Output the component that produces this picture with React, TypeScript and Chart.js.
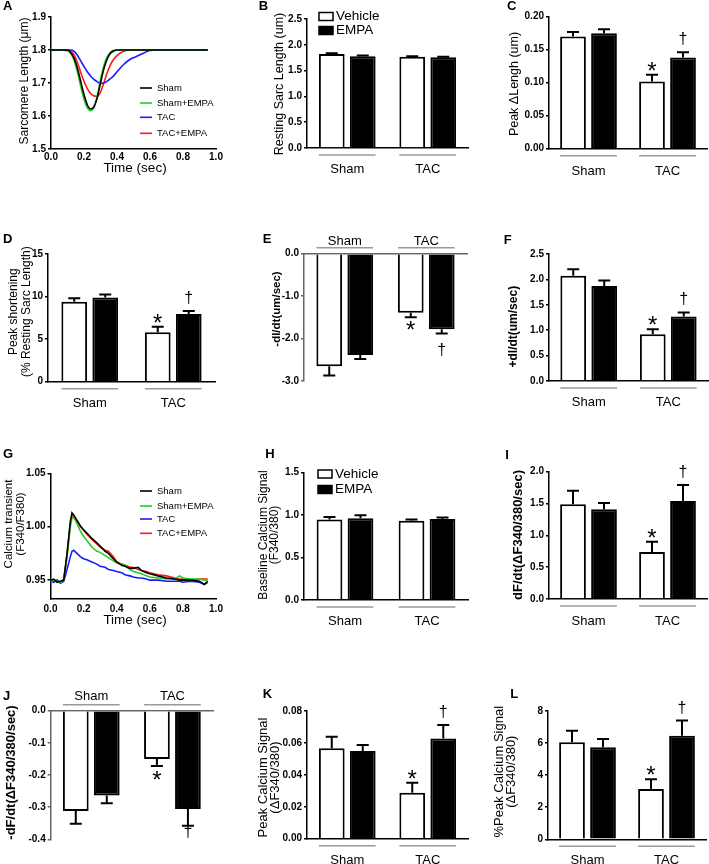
import React, { useEffect, useRef } from 'react';
import { Chart, registerables } from 'chart.js';

Chart.register(...registerables);

const FONT = "'Liberation Sans', Arial, Helvetica, sans-serif";
Chart.defaults.font.family = FONT;
Chart.defaults.color = '#000';

// ---------------- Data ----------------
const groups = ['Sham', 'TAC'];
const barSeries = ['Vehicle', 'EMPA'];
const traceNames = ['Sham', 'Sham+EMPA', 'TAC', 'TAC+EMPA'];
const traceColors = ['#000000', '#1fd11f', '#1a1aff', '#ff1a1a'];

// Panel A: sarcomere length traces
const timeA = [0, 0.05, 0.10, 0.12, 0.14, 0.16, 0.18, 0.20, 0.22, 0.24, 0.26, 0.28, 0.30, 0.32, 0.34, 0.36, 0.38, 0.40, 0.44, 0.48, 0.52, 0.56, 0.60, 0.70, 0.80, 0.90, 0.95];
const lenSham = [1.8, 1.8, 1.799, 1.792, 1.775, 1.745, 1.705, 1.665, 1.634, 1.621, 1.628, 1.655, 1.700, 1.742, 1.772, 1.790, 1.797, 1.800, 1.8, 1.8, 1.8, 1.8, 1.8, 1.8, 1.8, 1.8, 1.8];
const lenShamEmpa = [1.8, 1.8, 1.798, 1.789, 1.768, 1.733, 1.690, 1.650, 1.625, 1.616, 1.626, 1.660, 1.710, 1.752, 1.779, 1.793, 1.799, 1.800, 1.8, 1.8, 1.8, 1.8, 1.8, 1.8, 1.8, 1.8, 1.8];
const lenTac = [1.8, 1.8, 1.8, 1.8, 1.796, 1.784, 1.767, 1.750, 1.734, 1.721, 1.711, 1.704, 1.699, 1.700, 1.705, 1.713, 1.722, 1.734, 1.756, 1.772, 1.781, 1.790, 1.799, 1.8, 1.8, 1.8, 1.8];
const lenTacEmpa = [1.8, 1.8, 1.8, 1.797, 1.785, 1.762, 1.732, 1.705, 1.683, 1.668, 1.661, 1.660, 1.672, 1.700, 1.730, 1.755, 1.772, 1.783, 1.796, 1.8, 1.8, 1.8, 1.8, 1.8, 1.8, 1.8, 1.8];

// Panel G: calcium transient traces
const timeG = [0, 0.02, 0.04, 0.06, 0.08, 0.10, 0.12, 0.13, 0.14, 0.16, 0.18, 0.20, 0.22, 0.25, 0.28, 0.30, 0.33, 0.35, 0.38, 0.40, 0.43, 0.45, 0.48, 0.50, 0.53, 0.55, 0.58, 0.60, 0.65, 0.70, 0.75, 0.78, 0.80, 0.85, 0.90, 0.93, 0.95];
const caSham = [0.950, 0.951, 0.948, 0.949, 0.950, 0.975, 1.005, 1.013, 1.011, 1.006, 1.001, 0.997, 0.994, 0.989, 0.985, 0.982, 0.977, 0.975, 0.970, 0.967, 0.964, 0.963, 0.961, 0.961, 0.962, 0.959, 0.957, 0.956, 0.954, 0.952, 0.951, 0.950, 0.950, 0.950, 0.949, 0.946, 0.949];
const caShamEmpa = [0.949, 0.950, 0.949, 0.948, 0.950, 0.972, 1.000, 1.008, 1.009, 1.003, 0.996, 0.991, 0.987, 0.981, 0.977, 0.976, 0.973, 0.971, 0.968, 0.966, 0.965, 0.964, 0.960, 0.958, 0.957, 0.956, 0.954, 0.953, 0.952, 0.951, 0.951, 0.954, 0.952, 0.951, 0.951, 0.950, 0.950];
const caTac = [0.949, 0.948, 0.950, 0.947, 0.949, 0.960, 0.972, 0.977, 0.978, 0.975, 0.972, 0.970, 0.969, 0.967, 0.965, 0.963, 0.962, 0.960, 0.959, 0.958, 0.957, 0.955, 0.954, 0.953, 0.952, 0.952, 0.951, 0.950, 0.950, 0.949, 0.949, 0.949, 0.948, 0.949, 0.948, 0.946, 0.948];
const caTacEmpa = [0.951, 0.949, 0.950, 0.948, 0.951, 0.974, 1.003, 1.010, 1.009, 1.005, 1.000, 0.997, 0.993, 0.988, 0.984, 0.981, 0.978, 0.977, 0.972, 0.967, 0.965, 0.964, 0.962, 0.962, 0.960, 0.959, 0.958, 0.957, 0.955, 0.954, 0.952, 0.951, 0.951, 0.950, 0.951, 0.951, 0.951];

// Bar panels: means and SEM for [Sham, TAC]
const restLenVehicle = [1.82, 1.77];
const restLenVehicleSem = [0.015, 0.008];
const restLenEmpa = [1.78, 1.76];
const restLenEmpaSem = [0.012, 0.006];

const peakDLenVehicle = [0.170, 0.102];
const peakDLenVehicleSem = [0.007, 0.010];
const peakDLenEmpa = [0.175, 0.138];
const peakDLenEmpaSem = [0.006, 0.008];

const peakShortVehicle = [9.4, 5.8];
const peakShortVehicleSem = [0.4, 0.65];
const peakShortEmpa = [9.9, 7.95];
const peakShortEmpaSem = [0.35, 0.35];

const negDldtVehicle = [-2.65, -1.39];
const negDldtVehicleSem = [0.22, 0.11];
const negDldtEmpa = [-2.39, -1.78];
const negDldtEmpaSem = [0.09, 0.10];

const posDldtVehicle = [2.07, 0.92];
const posDldtVehicleSem = [0.13, 0.10];
const posDldtEmpa = [1.87, 1.27];
const posDldtEmpaSem = [0.11, 0.08];

const baseCaVehicle = [0.945, 0.932];
const baseCaVehicleSem = [0.03, 0.013];
const baseCaEmpa = [0.96, 0.952];
const baseCaEmpaSem = [0.035, 0.018];

const caUpVehicle = [1.49, 0.74];
const caUpVehicleSem = [0.21, 0.16];
const caUpEmpa = [1.41, 1.54];
const caUpEmpaSem = [0.10, 0.25];

const caDownVehicle = [-0.312, -0.150];
const caDownVehicleSem = [0.040, 0.022];
const caDownEmpa = [-0.264, -0.306];
const caDownEmpaSem = [0.024, 0.052];

const peakCaVehicle = [0.0566, 0.0288];
const peakCaVehicleSem = [0.0073, 0.0062];
const peakCaEmpa = [0.055, 0.0627];
const peakCaEmpaSem = [0.0037, 0.0086];

const pctPeakCaVehicle = [6.05, 3.14];
const pctPeakCaVehicleSem = [0.72, 0.6];
const pctPeakCaEmpa = [5.74, 6.46];
const pctPeakCaEmpaSem = [0.51, 0.94];

// Tick values
const ticksTime = [0, 0.2, 0.4, 0.6, 0.8, 1.0];
const ticksLenA = [1.5, 1.6, 1.7, 1.8, 1.9];
const ticksCaG = [0.95, 1.0, 1.05];
const caAxisMinG = 0.933;
const ticksB = [0, 0.5, 1, 1.5, 2, 2.5];
const ticksC = [0, 0.05, 0.1, 0.15, 0.2];
const ticksD = [0, 5, 10, 15];
const ticksE = [-3, -2, -1, 0];
const ticksF = [0, 0.5, 1, 1.5, 2, 2.5];
const ticksH = [0, 0.5, 1, 1.5];
const ticksI = [0, 0.5, 1, 1.5, 2];
const ticksJ = [-0.4, -0.3, -0.2, -0.1, 0];
const ticksK = [0, 0.02, 0.04, 0.06, 0.08];
const ticksL = [0, 2, 4, 6, 8];

// ---------------- Layout ----------------
const CX = [0, 236, 472];
const CW = [236, 236, 237];
const RY = [0, 205, 420, 640];
const RH = [205, 215, 220, 224];

const panels: any[] = [
  { kind: 'line', letter: 'A', letterAt: [3, 10], cell: [0, 0], area: [51, 17, 216, 149], time: timeA,
    series: [lenSham, lenShamEmpa, lenTac, lenTacEmpa], smooth: true, yTicks: ticksLenA, yMin: 1.5, yMax: 1.9, yDec: 1,
    title: ['Sarcomere Length (\u03bcm)'], tSize: 12, tBold: false, tCX: 25, tCY: 81, tLine: 14,
    xTitleY: 168, xTickPad: 2, legendRows: [88, 103, 117.3, 133.3] },
  { kind: 'bar', letter: 'B', letterAt: [258.7, 10], cell: [1, 0], area: [307, 19, 468, 148],
    veh: restLenVehicle, vehErr: restLenVehicleSem, empa: restLenEmpa, empaErr: restLenEmpaSem, ticks: ticksB, dec: 1,
    title: ['Resting Sarc Length (um)'], tSize: 12.5, tBold: false, tCX: 279.3, tCY: 84, tLine: 14,
    labelPad: 14, legendAt: [319, 16.5, 30.5], marks: false },
  { kind: 'bar', letter: 'C', letterAt: [507, 10], cell: [2, 0], area: [549, 16.7, 707, 148.7],
    veh: peakDLenVehicle, vehErr: peakDLenVehicleSem, empa: peakDLenEmpa, empaErr: peakDLenEmpaSem, ticks: ticksC, dec: 2,
    title: ['Peak \u0394Lengh (um)'], tSize: 12.5, tBold: false, tCX: 515, tCY: 84, tLine: 14,
    labelPad: 15, marks: true },
  { kind: 'bar', letter: 'D', letterAt: [3, 243.3], cell: [0, 1], area: [48, 254, 215, 381.7],
    veh: peakShortVehicle, vehErr: peakShortVehicleSem, empa: peakShortEmpa, empaErr: peakShortEmpaSem, ticks: ticksD, dec: 0,
    title: ['Peak shortening', '(% Resting Sarc Length)'], tSize: 12, tBold: false, tCX: 20, tCY: 311.7, tLine: 13.5,
    labelPad: 14, marks: true },
  { kind: 'bar', letter: 'E', letterAt: [262.7, 243.3], cell: [1, 1], area: [304, 253.7, 467, 381],
    veh: negDldtVehicle, vehErr: negDldtVehicleSem, empa: negDldtEmpa, empaErr: negDldtEmpaSem, ticks: ticksE, dec: 1,
    title: ['-dl/dt(um/sec)'], tSize: 11.5, tBold: true, tCX: 276.5, tCY: 309, tLine: 14,
    labelPad: 4, xTop: true, axisColor: '#666', marks: true, markDy: [20.7, 21.7] },
  { kind: 'bar', letter: 'F', letterAt: [503.7, 244], cell: [2, 1], area: [549, 254, 708, 381],
    veh: posDldtVehicle, vehErr: posDldtVehicleSem, empa: posDldtEmpa, empaErr: posDldtEmpaSem, ticks: ticksF, dec: 1,
    title: ['+dl/dt(um/sec)'], tSize: 12, tBold: true, tCX: 514, tCY: 326.7, tLine: 14,
    labelPad: 14, marks: true },
  { kind: 'line', letter: 'G', letterAt: [3, 458.3], cell: [0, 2], area: [50.5, 473.3, 216, 598.3], time: timeG,
    series: [caSham, caShamEmpa, caTac, caTacEmpa], smooth: false, yTicks: ticksCaG, yMin: caAxisMinG, yMax: 1.05, yDec: 2,
    title: ['Calcium transient', '(F340/F380)'], tSize: 11.5, tBold: false, tCX: 14.75, tCY: 524, tLine: 12.5,
    xTitleY: 620, xTickPad: 4.5, legendRows: [491, 506, 519, 533.3] },
  { kind: 'bar', letter: 'H', letterAt: [265.3, 458.3], cell: [1, 2], area: [304, 472.3, 468, 600],
    veh: baseCaVehicle, vehErr: baseCaVehicleSem, empa: baseCaEmpa, empaErr: baseCaEmpaSem, ticks: ticksH, dec: 1,
    title: ['Baseline Calcium Signal', '(F340/380)'], tSize: 12, tBold: false, tCX: 269.25, tCY: 535, tLine: 11.5,
    labelPad: 14, legendAt: [318, 474, 489.5], marks: false },
  { kind: 'bar', letter: 'I', letterAt: [505.3, 459], cell: [2, 2], area: [549, 471.7, 707, 599],
    veh: caUpVehicle, vehErr: caUpVehicleSem, empa: caUpEmpa, empaErr: caUpEmpaSem, ticks: ticksI, dec: 1,
    title: ['dF/dt(\u0394F340/380/sec)'], tSize: 13, tBold: true, tCX: 518.7, tCY: 535, tLine: 14,
    labelPad: 15, marks: true },
  { kind: 'bar', letter: 'J', letterAt: [3, 700], cell: [0, 3], area: [50.7, 710.7, 213, 839.3],
    veh: caDownVehicle, vehErr: caDownVehicleSem, empa: caDownEmpa, empaErr: caDownEmpaSem, ticks: ticksJ, dec: 1,
    title: ['-dF/dt(\u0394F340/380/sec)'], tSize: 13, tBold: true, tCX: 11, tCY: 772.5, tLine: 14,
    labelPad: 6, xTop: true, axisColor: '#666', marks: true, markDy: [22.2, 11] },
  { kind: 'bar', letter: 'K', letterAt: [262.7, 697.7], cell: [1, 3], area: [307, 711, 468, 838.7],
    veh: peakCaVehicle, vehErr: peakCaVehicleSem, empa: peakCaEmpa, empaErr: peakCaEmpaSem, ticks: ticksK, dec: 2,
    title: ['Peak Calcium Signal', '(\u0394F340/380)'], tSize: 13, tBold: false, tCX: 269.2, tCY: 777.5, tLine: 11.7,
    labelPad: 13.5, marks: true },
  { kind: 'bar', letter: 'L', letterAt: [510.3, 697.7], cell: [2, 3], area: [548, 711, 706, 839.3],
    veh: pctPeakCaVehicle, vehErr: pctPeakCaVehicleSem, empa: pctPeakCaEmpa, empaErr: pctPeakCaEmpaSem, ticks: ticksL, dec: 0,
    title: ['%Peak Calcium Signal', '(\u0394F340/380)'], tSize: 13, tBold: false, tCX: 505.2, tCY: 771.7, tLine: 11.7,
    labelPad: 13, marks: true },
];

// ---------------- Drawing helpers ----------------
function drawVTitle(ctx: any, lines: string[], cx: number, cy: number, size: number, bold: boolean, lh: number) {
  ctx.save();
  ctx.translate(cx, cy);
  ctx.rotate(-Math.PI / 2);
  ctx.font = `${bold ? 'bold ' : ''}${size}px ${FONT}`;
  ctx.textAlign = 'center';
  ctx.textBaseline = 'middle';
  ctx.fillStyle = '#000';
  const n = lines.length;
  lines.forEach((t, i) => ctx.fillText(t, 0, (i - (n - 1) / 2) * lh));
  ctx.restore();
}

function drawCommon(ctx: any, p: any, ox: number, oy: number) {
  ctx.save();
  ctx.fillStyle = '#000';
  ctx.font = `bold 13px ${FONT}`;
  ctx.textAlign = 'left';
  ctx.textBaseline = 'alphabetic';
  ctx.fillText(p.letter, p.letterAt[0] - ox, p.letterAt[1] - oy);
  ctx.restore();
  drawVTitle(ctx, p.title, p.tCX - ox, p.tCY - oy, p.tSize, p.tBold, p.tLine);
}

function barDecor(p: any, ox: number, oy: number) {
  return {
    id: 'barDecor',
    afterDatasetsDraw(chart: any) {
      const ctx = chart.ctx;
      const ys = chart.scales.y;
      const vals = [p.veh, p.empa];
      const errs = [p.vehErr, p.empaErr];
      ctx.save();
      ctx.strokeStyle = '#000';
      ctx.lineWidth = 2;
      for (let d = 0; d < 2; d++) {
        const meta = chart.getDatasetMeta(d);
        meta.data.forEach((el: any, i: number) => {
          const v = vals[d][i];
          const e = errs[d][i];
          const y0 = ys.getPixelForValue(v);
          const y1 = ys.getPixelForValue(v >= 0 ? v + e : v - e);
          ctx.beginPath();
          ctx.moveTo(el.x, y0);
          ctx.lineTo(el.x, y1);
          ctx.moveTo(el.x - 6, y1);
          ctx.lineTo(el.x + 6, y1);
          ctx.stroke();
        });
      }
      ctx.restore();
    },
    afterDraw(chart: any) {
      const ctx = chart.ctx;
      const ys = chart.scales.y;
      const area = chart.chartArea;
      const m0 = chart.getDatasetMeta(0).data;
      const m1 = chart.getDatasetMeta(1).data;
      ctx.save();
      // group lines
      const gy = p.xTop ? area.top - 6 : area.bottom + 7;
      ctx.strokeStyle = '#9a9a9a';
      ctx.lineWidth = 1.5;
      for (let i = 0; i < groups.length; i++) {
        const l = m0[i].x - m0[i].width / 2;
        const r = m1[i].x + m1[i].width / 2;
        ctx.beginPath();
        ctx.moveTo(l, gy);
        ctx.lineTo(r, gy);
        ctx.stroke();
      }
      // significance marks on TAC
      if (p.marks) {
        const v0 = p.veh[1], e0 = p.vehErr[1];
        const v1 = p.empa[1], e1 = p.empaErr[1];
        const end0 = ys.getPixelForValue(v0 >= 0 ? v0 + e0 : v0 - e0);
        const end1 = ys.getPixelForValue(v1 >= 0 ? v1 + e1 : v1 - e1);
        const dy = p.markDy || [4, -8];
        ctx.fillStyle = '#000';
        ctx.textAlign = 'center';
        ctx.textBaseline = 'alphabetic';
        ctx.font = `24px ${FONT}`;
        ctx.fillText('*', m0[1].x, end0 + dy[0]);
        ctx.font = `16px ${FONT}`;
        ctx.fillText('\u2020', m1[1].x, end1 + dy[1]);
      }
      // legend
      if (p.legendAt) {
        const [bx, y1, y2] = p.legendAt;
        const x = bx - ox;
        ctx.lineWidth = 1.5;
        ctx.strokeStyle = '#000';
        ctx.fillStyle = '#fff';
        ctx.fillRect(x, y1 - oy - 4, 14, 8);
        ctx.strokeRect(x, y1 - oy - 4, 14, 8);
        ctx.fillStyle = '#000';
        ctx.fillRect(x - 0.75, y2 - oy - 4.75, 15.5, 9.5);
        ctx.font = `13.5px ${FONT}`;
        ctx.textAlign = 'left';
        ctx.textBaseline = 'middle';
        ctx.fillText(barSeries[0], x + 17, y1 - oy);
        ctx.fillText(barSeries[1], x + 17, y2 - oy);
      }
      ctx.restore();
      drawCommon(ctx, p, ox, oy);
    },
  };
}

function lineDecor(p: any, ox: number, oy: number) {
  return {
    id: 'lineDecor',
    afterDraw(chart: any) {
      const ctx = chart.ctx;
      ctx.save();
      ctx.lineWidth = 1.6;
      ctx.font = `9.5px ${FONT}`;
      ctx.textAlign = 'left';
      ctx.textBaseline = 'middle';
      p.legendRows.forEach((ry: number, k: number) => {
        const y = ry - oy;
        ctx.strokeStyle = traceColors[k];
        ctx.beginPath();
        ctx.moveTo(140 - ox, y);
        ctx.lineTo(152 - ox, y);
        ctx.stroke();
        ctx.fillStyle = '#000';
        ctx.fillText(traceNames[k], 157 - ox, y);
      });
      ctx.font = `13.5px ${FONT}`;
      ctx.textAlign = 'center';
      ctx.fillStyle = '#000';
      ctx.fillText('Time (sec)', 135 - ox, p.xTitleY - oy);
      ctx.restore();
      drawCommon(ctx, p, ox, oy);
    },
  };
}

function barConfig(p: any) {
  const [c, r] = p.cell;
  const ox = CX[c], oy = RY[r], w = CW[c], h = RH[r];
  const [L, T, R, B] = p.area;
  const cat = (R - L) / groups.length;
  const top = !!p.xTop;
  const axisColor = p.axisColor || '#000';
  const ticks = p.ticks;
  return {
    type: 'bar',
    data: {
      labels: groups,
      datasets: [
        { label: barSeries[0], data: p.veh, backgroundColor: '#ffffff', borderColor: '#000', borderWidth: 2,
          categoryPercentage: 62 / cat, barPercentage: 0.83 },
        { label: barSeries[1], data: p.empa, backgroundColor: '#000000', borderColor: '#000', borderWidth: 2,
          categoryPercentage: 62 / cat, barPercentage: 0.83 },
      ],
    },
    options: {
      responsive: false,
      animation: false,
      devicePixelRatio: 1,
      layout: { padding: { left: 0, right: ox + w - R, top: top ? 0 : T - oy, bottom: top ? oy + h - B : 0 } },
      plugins: { legend: { display: false }, tooltip: { enabled: false }, title: { display: false } },
      scales: {
        x: {
          position: top ? 'top' : 'bottom',
          grid: { display: false, drawTicks: false },
          border: { display: true, color: axisColor, width: 1.5 },
          ticks: { font: { size: 13, family: FONT }, color: '#000', padding: p.labelPad, maxRotation: 0, autoSkip: false },
          afterFit: (s: any) => { s.height = top ? T - oy : oy + h - B; },
        },
        y: {
          min: ticks[0],
          max: ticks[ticks.length - 1],
          afterBuildTicks: (s: any) => { s.ticks = ticks.map((v: number) => ({ value: v })); },
          afterFit: (s: any) => { s.width = L - ox; },
          grid: { display: true, drawOnChartArea: false, drawTicks: true, tickLength: 3, color: axisColor, lineWidth: 1.5 },
          border: { display: true, color: axisColor, width: 1.5 },
          ticks: { font: { size: 10, weight: 'bold', family: FONT }, color: '#000', padding: 2, autoSkip: false,
            callback: (v: any) => Number(v).toFixed(p.dec) },
        },
      },
    },
    plugins: [barDecor(p, ox, oy)],
  };
}

function lineConfig(p: any) {
  const [c, r] = p.cell;
  const ox = CX[c], oy = RY[r], w = CW[c], h = RH[r];
  const [L, T, R, B] = p.area;
  return {
    type: 'line',
    data: {
      datasets: p.series.map((s: number[], k: number) => ({
        label: traceNames[k],
        data: p.time.map((t: number, i: number) => ({ x: t, y: s[i] })),
        borderColor: traceColors[k],
        backgroundColor: traceColors[k],
        borderWidth: 1.6,
        pointRadius: 0,
        tension: p.smooth ? 0.4 : 0,
        cubicInterpolationMode: p.smooth ? 'monotone' : 'default',
        fill: false,
      })),
    },
    options: {
      responsive: false,
      animation: false,
      devicePixelRatio: 1,
      layout: { padding: { left: 0, top: T - oy, right: ox + w - R, bottom: 0 } },
      plugins: { legend: { display: false }, tooltip: { enabled: false } },
      scales: {
        x: {
          type: 'linear', min: 0, max: 1,
          afterBuildTicks: (s: any) => { s.ticks = ticksTime.map((v) => ({ value: v })); },
          afterFit: (s: any) => { s.height = oy + h - B; },
          grid: { display: false, drawTicks: false },
          border: { display: true, color: '#000', width: 1.5 },
          ticks: { font: { size: 10, weight: 'bold', family: FONT }, color: '#000', padding: p.xTickPad, maxRotation: 0, autoSkip: false,
            callback: (v: any) => Number(v).toFixed(1) },
        },
        y: {
          type: 'linear', min: p.yMin, max: p.yMax,
          afterBuildTicks: (s: any) => { s.ticks = p.yTicks.map((v: number) => ({ value: v })); },
          afterFit: (s: any) => { s.width = L - ox; },
          grid: { display: true, drawOnChartArea: false, drawTicks: true, tickLength: 3, color: '#000', lineWidth: 1.5 },
          border: { display: true, color: '#000', width: 1.5 },
          ticks: { font: { size: 10, weight: 'bold', family: FONT }, color: '#000', padding: 2, autoSkip: false,
            callback: (v: any) => Number(v).toFixed(p.yDec) },
        },
      },
    },
    plugins: [lineDecor(p, ox, oy)],
  };
}

function Panel({ spec }: { spec: any }) {
  const ref = useRef<HTMLCanvasElement>(null);
  useEffect(() => {
    if (!ref.current) return;
    const cfg: any = spec.kind === 'bar' ? barConfig(spec) : lineConfig(spec);
    const chart = new Chart(ref.current, cfg);
    return () => chart.destroy();
  }, [spec]);
  const [c, r] = spec.cell;
  return (
    <canvas
      ref={ref}
      width={CW[c]}
      height={RH[r]}
      style={{ position: 'absolute', left: CX[c], top: RY[r], width: CW[c], height: RH[r], display: 'block' }}
    />
  );
}

export default function App() {
  return (
    <div style={{ position: 'absolute', left: 0, top: 0, width: 709, height: 864, background: '#fff', overflow: 'hidden' }}>
      {panels.map((p) => (
        <Panel key={p.letter} spec={p} />
      ))}
    </div>
  );
}
